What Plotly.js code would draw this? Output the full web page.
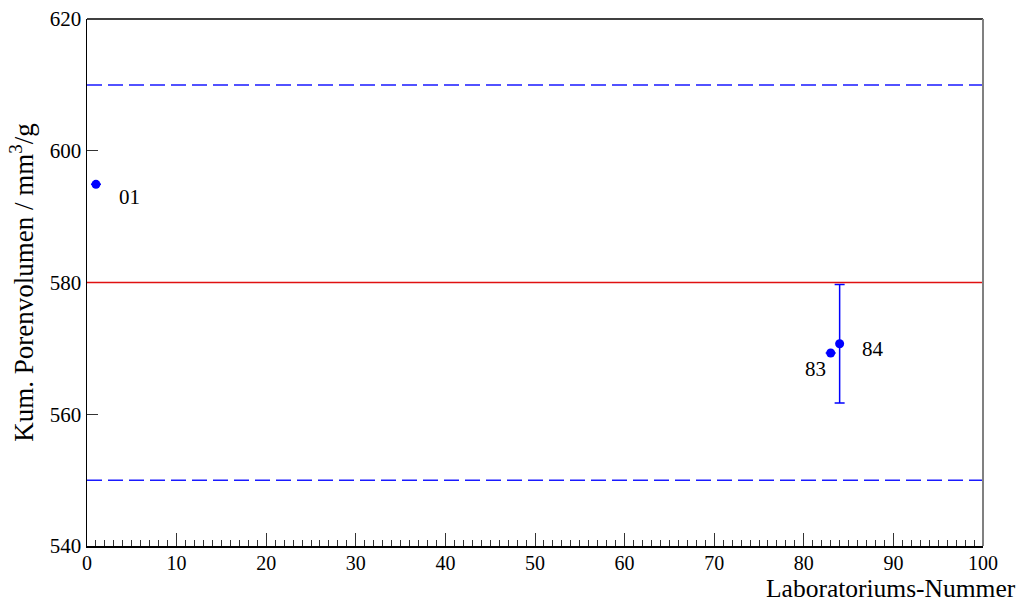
<!DOCTYPE html>
<html>
<head>
<meta charset="utf-8">
<script src="https://cdn.plot.ly/plotly-3.0.1.min.js"></script>
<style>
  html, body { margin: 0; padding: 0; background: #fff; }
  #chart { width: 1019px; height: 604px; }
</style>
</head>
<body>
<div id="chart"></div>
<script>
// Laboratory results: cumulative pore volume per lab
const labNumbers = [1, 83, 84];
const labLabels = ['01', '83', '84'];
const poreVolume = [594.9, 569.3, 570.7];
const errPlus = [0, 0, 9.0];
const errMinus = [0, 0, 9.0];

// Reference value and tolerance limits
const refValue = 580;
const upperLimit = 610;
const lowerLimit = 550;

// Label offsets (pixels) for each lab point
const labelShift = [[34, 13], [-15, 16], [33, 5]];

const xRange = [0, 100];
const yRange = [540, 620];
const yTicks = [540, 560, 580, 600, 620];

const serif = '"Liberation Serif", "Times New Roman", serif';

const traces = [
  {
    x: labNumbers,
    y: poreVolume,
    type: 'scatter',
    mode: 'markers',
    marker: { color: '#0000ff', size: 9 },
    error_y: {
      type: 'data',
      symmetric: false,
      array: errPlus,
      arrayminus: errMinus,
      color: '#0000ff',
      thickness: 1.5,
      width: 5
    },
    hoverinfo: 'x+y',
    showlegend: false
  }
];

const hLine = (yv, color, dash, width) => ({
  type: 'line', xref: 'paper', yref: 'y',
  x0: 0, x1: 1, y0: yv, y1: yv,
  line: { color: color, width: width, dash: dash }
});

const shapes = [
  hLine(upperLimit, '#1a1aff', '15px,6px', 1.5),
  hLine(lowerLimit, '#1a1aff', '15px,6px', 1.5),
  hLine(refValue, '#e01010', 'solid', 1.5),
  // top frame line
  { type: 'line', xref: 'paper', yref: 'paper', x0: 0, x1: 1, y0: 1, y1: 1,
    line: { color: '#000', width: 1.5 } },
  // right frame line
  { type: 'line', xref: 'paper', yref: 'paper', x0: 1, x1: 1, y0: 0, y1: 1,
    line: { color: '#808080', width: 2 } }
];

const annotations = labNumbers.map((lx, i) => ({
  x: lx, y: poreVolume[i], xref: 'x', yref: 'y',
  text: labLabels[i], showarrow: false,
  xshift: labelShift[i][0], yshift: -labelShift[i][1],
  font: { family: serif, size: 21, color: '#000' }
}));

annotations.push({
  xref: 'paper', yref: 'paper', x: 1.038, y: 0, xanchor: 'right', yanchor: 'bottom',
  yshift: -58, borderpad: 0,
  text: 'Laboratoriums-Nummer', showarrow: false,
  font: { family: serif, size: 25.5, color: '#000' }
});

const layout = {
  width: 1019,
  height: 604,
  margin: { l: 87, r: 36, t: 19, b: 58 },
  paper_bgcolor: '#fff',
  plot_bgcolor: '#fff',
  font: { family: serif, size: 21, color: '#000' },
  xaxis: {
    range: xRange,
    tick0: 0, dtick: 10,
    ticks: 'inside', ticklen: 13, tickwidth: 1, tickcolor: '#333',
    minor: { dtick: 1, ticks: 'inside', ticklen: 6, tickwidth: 1, tickcolor: '#333' },
    showgrid: false, zeroline: false,
    showline: true, linecolor: '#000', linewidth: 1.5,
    ticklabelstandoff: -2,
    tickfont: { family: serif, size: 20, color: '#000' }
  },
  yaxis: {
    range: yRange,
    tickvals: yTicks,
    ticks: 'inside', ticklen: 11, tickwidth: 1, tickcolor: '#333',
    showgrid: false, zeroline: false,
    showline: true, linecolor: '#000', linewidth: 1.5,
    tickfont: { family: serif, size: 21, color: '#000' },
    title: {
      text: 'Kum. Porenvolumen / mm<sup>3</sup>/g',
      font: { family: serif, size: 27, color: '#000' },
      standoff: 8
    }
  },
  shapes: shapes,
  annotations: annotations
};

Plotly.newPlot('chart', traces, layout, { displayModeBar: false, staticPlot: true });
</script>
</body>
</html>
